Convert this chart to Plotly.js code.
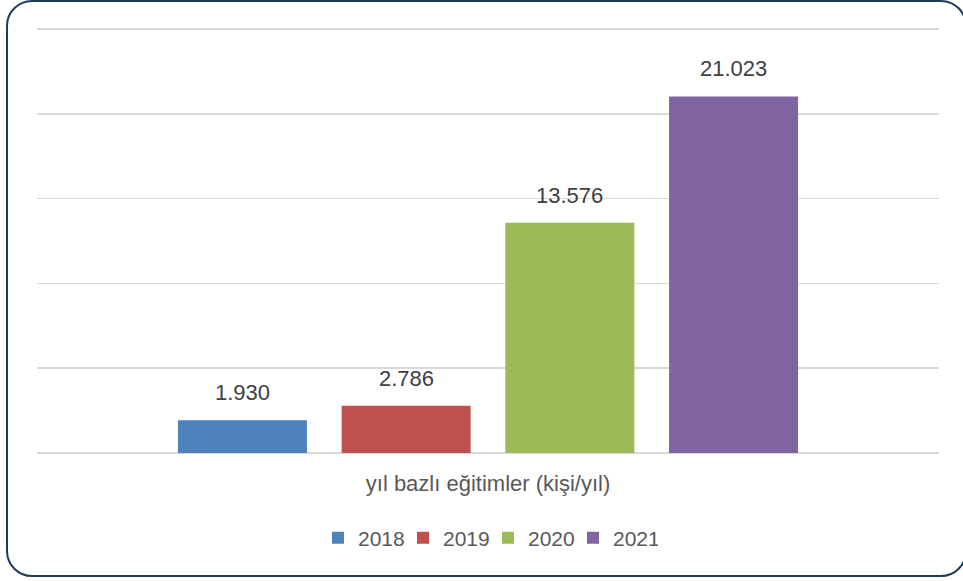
<!DOCTYPE html>
<html>
<head>
<meta charset="utf-8">
<script src="https://cdn.plot.ly/plotly-3.0.1.min.js"></script>
<style>
  html, body { margin: 0; padding: 0; background: #ffffff; }
  #wrap { position: relative; width: 963px; height: 581px; overflow: hidden; }
  #frame { position: absolute; left: 6px; top: 0px; width: 961px; height: 577px;
           border: 2.5px solid #1F3B5C; border-radius: 26px; box-sizing: border-box; pointer-events: none; }
  #chart { position: absolute; left: 0; top: 0; width: 963px; height: 581px; }
</style>
</head>
<body>
<div id="wrap">
  <div id="chart"></div>
  <div id="frame"></div>
</div>
<script>
const category = ["yıl bazlı eğitimler (kişi/yıl)"];
const seriesNames = ["2018", "2019", "2020", "2021"];
const seriesValues = [1930, 2786, 13576, 21023];
const seriesColors = ["#4F81BD", "#C0504D", "#9BBB59", "#8064A2"];
const yTicks = [0, 5000, 10000, 15000, 20000, 25000];

const bargap = 0.274;
const bargroupgap = 0.212;
const textFont = "Liberation Sans, Arial, sans-serif";

const traces = seriesNames.map((name, i) => ({
  type: "bar",
  name: name,
  x: category,
  y: [seriesValues[i]],
  marker: { color: seriesColors[i] },
  hoverinfo: "skip"
}));

// data labels placed above each bar, using the grouped-bar slot positions
const n = seriesNames.length;
const slot = (1 - bargap) / n;
const annotations = seriesValues.map((v, i) => ({
  xref: "x", yref: "y",
  x: -((1 - bargap) / 2) + slot * (i + 0.5),
  y: v,
  text: v.toLocaleString("de-DE"),
  showarrow: false,
  yanchor: "bottom",
  yshift: 13,
  font: { family: textFont, size: 22, color: "#404040" }
}));

const layout = {
  width: 963, height: 581,
  margin: { l: 37, r: 24, t: 27, b: 128 },
  paper_bgcolor: "#ffffff",
  plot_bgcolor: "#ffffff",
  separators: ",.",
  barmode: "group",
  bargap: bargap,
  bargroupgap: bargroupgap,
  showlegend: true,
  legend: {
    orientation: "h",
    x: 0.5, xanchor: "center",
    y: -0.2, yanchor: "middle",
    font: { family: textFont, size: 21, color: "#595959" },
    itemwidth: 30,
    entrywidth: 40,
    traceorder: "normal"
  },
  xaxis: {
    type: "category",
    showline: false,
    showgrid: false,
    ticks: "",
    tickfont: { family: textFont, size: 22, color: "#595959" },
    ticklabelstandoff: 15
  },
  yaxis: {
    range: [0, 25120],
    tickvals: yTicks,
    showticklabels: false,
    showgrid: true,
    gridcolor: "#D9D9D9",
    gridwidth: 1.5,
    zeroline: true,
    zerolinecolor: "#D9D9D9",
    zerolinewidth: 1.5,
    showline: false,
    fixedrange: true
  },
  annotations: annotations
};

Plotly.newPlot("chart", traces, layout, { displayModeBar: false, staticPlot: true });
</script>
</body>
</html>
